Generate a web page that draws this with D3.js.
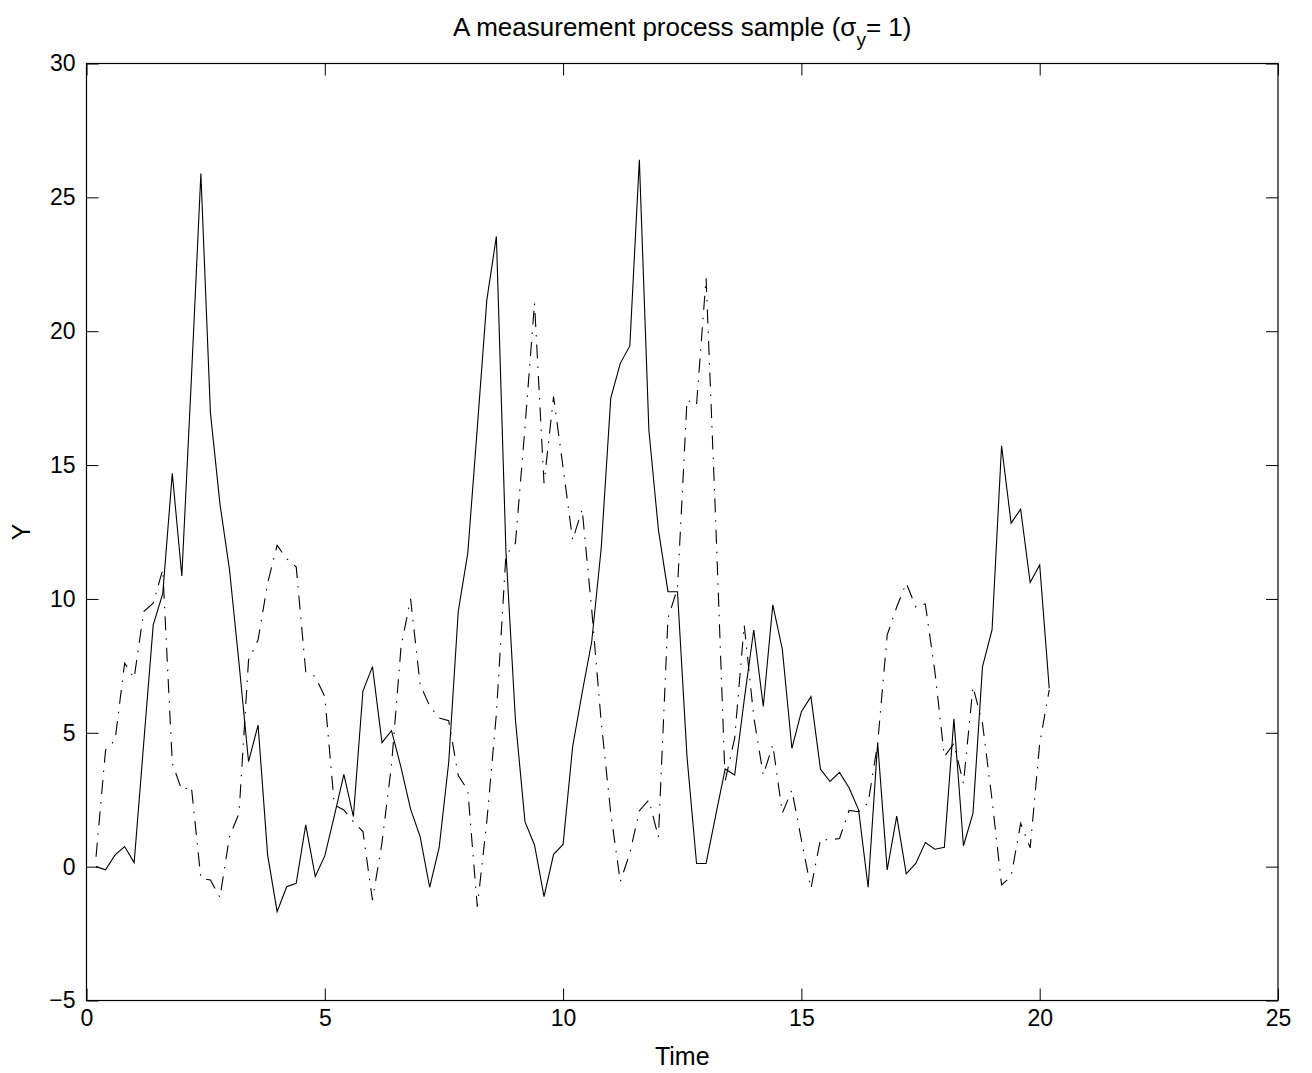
<!DOCTYPE html>
<html>
<head>
<meta charset="utf-8">
<script src="https://cdn.jsdelivr.net/npm/d3@7"></script>
<style>
  html, body { margin: 0; padding: 0; background: #ffffff; }
  svg { display: block; font-family: "Liberation Sans", Arial, Helvetica, sans-serif; }
</style>
</head>
<body>
<script>
// sample times: t = 0.2, 0.4, ... 20.2
const times = d3.range(1, 102).map(k => +(k * 0.2).toFixed(1));

// solid trace
const solidValues = [
  0.0, -0.12, 0.44, 0.75, 0.15, 4.6, 9.03, 10.2, 14.69, 10.86,
  18.2, 25.89, 16.96, 13.55, 11.1, 7.6, 3.92, 5.29, 0.44, -1.68,
  -0.75, -0.62, 1.56, -0.37, 0.40, 1.9, 3.45, 1.87, 6.56, 7.47,
  4.63, 5.08, 3.7, 2.15, 1.12, -0.77, 0.72, 3.9, 9.53, 11.71,
  16.4, 21.17, 23.54, 11.8, 5.48, 1.68, 0.81, -1.12, 0.46, 0.83,
  4.48, 6.5, 8.4, 11.9, 17.5, 18.8, 19.45, 26.4, 16.3, 12.58,
  10.27, 10.27, 4.1, 0.12, 0.12, 1.9, 3.65, 3.42, 6.23, 8.84,
  5.98, 9.78, 8.12, 4.42, 5.79, 6.35, 3.64, 3.18, 3.52, 2.95,
  2.12, -0.77, 4.63, -0.12, 1.89, -0.27, 0.12, 0.90, 0.65, 0.72,
  5.52, 0.78, 1.99, 7.47, 8.84, 15.72, 12.83, 13.35, 10.61, 11.27,
  6.66
];

// dash-dot trace
const dashDotValues = [
  0.37, 4.36, 4.73, 7.60, 7.04, 9.53, 9.84, 11.1, 3.86, 2.86,
  2.99, -0.44, -0.5, -1.15, 1.12, 1.99, 7.72, 8.47, 10.59, 12.0,
  11.5, 11.2, 7.28, 7.1, 6.35, 2.30, 2.12, 1.68, 1.31, -1.25,
  0.9, 3.8, 8.22, 10.0, 6.8, 6.0, 5.55, 5.45, 3.4, 2.86,
  -1.5, 1.7, 5.7, 11.64, 12.08, 16.4, 21.05, 14.32, 17.56, 14.9,
  12.2, 13.35, 9.6, 5.4, 2.0, -0.56, 0.5, 2.09, 2.49, 1.1,
  9.28, 10.4, 17.43, 17.25, 21.98, 13.0, 3.2, 4.8, 9.03, 5.6,
  3.42, 4.55, 2.0, 2.86, 1.0, -0.81, 1.02, 1.0, 1.05, 2.1,
  2.05, 2.38, 4.6, 8.65, 9.7, 10.59, 9.7, 9.81, 7.3, 4.11,
  4.6, 3.11, 6.72, 5.35, 2.5, -0.68, -0.37, 1.62, 0.7, 4.6,
  6.6
];

const xTicks = [0, 5, 10, 15, 20, 25];
const yTicks = [-5, 0, 5, 10, 15, 20, 25, 30];

const width = 1312, height = 1073;
const plot = { left: 86.5, right: 1278, top: 63.5, bottom: 1000.5 };
const tickFont = 23;
const labelFont = 25;
const titleFont = 26;

const svg = d3.select("body").append("svg")
  .attr("width", width)
  .attr("height", height);

svg.append("rect")
  .attr("width", width).attr("height", height)
  .attr("fill", "#ffffff");

const x = d3.scaleLinear().domain([0, 25]).range([plot.left, plot.right]);
const y = d3.scaleLinear().domain([-5, 30]).range([plot.bottom, plot.top]);

const tickLen = 12;

function styleAxis(sel) {
  sel.select(".domain").remove();
  sel.selectAll("line").attr("stroke", "#000").attr("stroke-width", 1);
  sel.selectAll("text")
    .attr("fill", "#000")
    .style("font-size", tickFont + "px")
    .style("font-family", "\"Liberation Sans\", Arial, sans-serif");
}

svg.append("g")
  .attr("transform", `translate(0,${plot.bottom})`)
  .call(d3.axisBottom(x).tickValues(xTicks).tickSizeInner(-tickLen).tickSizeOuter(0).tickPadding(9).tickFormat(d3.format("d")))
  .call(styleAxis);

svg.append("g")
  .attr("transform", `translate(0,${plot.top})`)
  .call(d3.axisTop(x).tickValues(xTicks).tickSizeInner(-tickLen).tickSizeOuter(0).tickFormat(""))
  .call(styleAxis);

svg.append("g")
  .attr("transform", `translate(${plot.left},0)`)
  .call(d3.axisLeft(y).tickValues(yTicks).tickSizeInner(-tickLen).tickSizeOuter(0).tickPadding(11).tickFormat(d3.format("d")))
  .call(styleAxis);

svg.append("g")
  .attr("transform", `translate(${plot.right},0)`)
  .call(d3.axisRight(y).tickValues(yTicks).tickSizeInner(-tickLen).tickSizeOuter(0).tickFormat(""))
  .call(styleAxis);

// box
svg.append("rect")
  .attr("x", plot.left).attr("y", plot.top)
  .attr("width", plot.right - plot.left)
  .attr("height", plot.bottom - plot.top)
  .attr("fill", "none")
  .attr("stroke", "#000")
  .attr("stroke-width", 1.2);

const solid = times.map((t, i) => ({ t, v: solidValues[i] }));
const dashDot = times.map((t, i) => ({ t, v: dashDotValues[i] }));

const line = d3.line().x(d => x(d.t)).y(d => y(d.v));

svg.append("path")
  .datum(solid)
  .attr("d", line)
  .attr("fill", "none")
  .attr("stroke", "#000")
  .attr("stroke-width", 1.1);

svg.append("path")
  .datum(dashDot)
  .attr("d", line)
  .attr("fill", "none")
  .attr("stroke", "#000")
  .attr("stroke-width", 1.1)
  .attr("stroke-dasharray", "14,8,1.5,8");

// title with subscript
const title = svg.append("text")
  .attr("x", (plot.left + plot.right) / 2)
  .attr("y", 36)
  .attr("text-anchor", "middle")
  .style("font-size", titleFont + "px")
  .attr("fill", "#000");
title.append("tspan").text("A measurement process sample (σ");
title.append("tspan").attr("dy", 10).style("font-size", "19px").text("y");
title.append("tspan").attr("dy", -10).text("= 1)");

svg.append("text")
  .attr("x", (plot.left + plot.right) / 2)
  .attr("y", 1065)
  .attr("text-anchor", "middle")
  .style("font-size", labelFont + "px")
  .attr("fill", "#000")
  .text("Time");

svg.append("text")
  .attr("transform", `translate(30,${(plot.top + plot.bottom) / 2}) rotate(-90)`)
  .attr("text-anchor", "middle")
  .style("font-size", labelFont + "px")
  .attr("fill", "#000")
  .text("Y");
</script>
</body>
</html>
